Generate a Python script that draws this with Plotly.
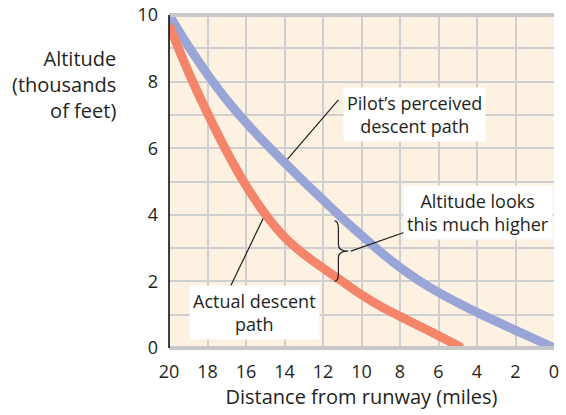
import plotly.graph_objects as go

# ---- data ----
distance = [20, 19, 18, 17, 16, 15, 14, 13, 12, 11, 10, 9, 8, 7, 6, 5, 4, 3, 2, 1, 0]
perceived = [10.0, 9.07, 8.22, 7.45, 6.77, 6.15, 5.57, 5.0, 4.45, 3.9, 3.38, 2.88, 2.42, 2.02, 1.67, 1.36, 1.07, 0.8, 0.53, 0.27, 0.0]
actual_x = [20, 19, 18, 17, 16, 15, 14, 13, 12, 11, 10, 9, 8, 7, 6, 5, 4.8]
actual = [9.7, 8.3, 7.05, 5.9, 4.88, 4.02, 3.33, 2.82, 2.4, 2.0, 1.6, 1.25, 0.95, 0.66, 0.37, 0.07, 0.0]
x_ticks = [20, 18, 16, 14, 12, 10, 8, 6, 4, 2, 0]
y_ticks = [0, 2, 4, 6, 8, 10]

BLUE = "#99a5d7"
RED = "#f4846a"
BG = "#fdf1e1"
GRID = "#cfcfcf"
INK = "#231f20"
FONT = "Open Sans"

fig = go.Figure()
fig.add_trace(go.Scatter(x=distance, y=perceived, mode="lines",
                         line=dict(color=BLUE, width=9, shape="spline", smoothing=0.8),
                         showlegend=False, hoverinfo="skip"))
fig.add_trace(go.Scatter(x=actual_x, y=actual, mode="lines",
                         line=dict(color=RED, width=9, shape="spline", smoothing=0.8),
                         showlegend=False, hoverinfo="skip"))

# top / bottom thick grey borders and left black axis
fig.add_shape(type="line", xref="paper", yref="paper", x0=0, x1=1, y0=1, y1=1, line=dict(color="#c8c8c8", width=4))
fig.add_shape(type="line", xref="paper", yref="paper", x0=0, x1=1, y0=0, y1=0, line=dict(color="#c8c8c8", width=4))
fig.add_shape(type="line", xref="paper", yref="paper", x0=0, x1=0, y0=0, y1=1, line=dict(color="black", width=1.5))

# leader lines (between grid and traces)
i14 = distance.index(14)
fig.add_shape(type="line", xref="x", yref="y", x0=distance[i14], y0=perceived[i14], x1=11.2, y1=7.45,
              line=dict(color=INK, width=1.2), layer="between")
i15 = actual_x.index(15)
fig.add_shape(type="line", xref="x", yref="y", x0=actual_x[i15], y0=actual[i15], x1=16.85, y1=1.8,
              line=dict(color=INK, width=1.2), layer="between")

# brace at 11 miles between the two curves
bx = 11
top = perceived[distance.index(bx)] - 0.08
bot = actual[actual_x.index(bx)]
mid = (top + bot) / 2
x0, xb, xt = bx + 0.4, bx + 0.2, bx - 0.3
path = (f"M {x0},{top} Q {xb},{top} {xb},{top - 0.25} L {xb},{mid + 0.2} "
        f"Q {xb},{mid} {xt},{mid} Q {xb},{mid} {xb},{mid - 0.2} "
        f"L {xb},{bot + 0.25} Q {xb},{bot} {x0},{bot}")
fig.add_shape(type="path", xref="x", yref="y", path=path, line=dict(color=INK, width=1.2))
fig.add_shape(type="line", xref="x", yref="y", x0=xt - 0.15, y0=mid, x1=7.65, y1=3.5,
              line=dict(color=INK, width=1.2))

lab = dict(font=dict(family=FONT, size=18, color=INK), showarrow=False, bgcolor="white",
           borderpad=3, align="center", xref="x", yref="y")
fig.add_annotation(text="Pilot’s perceived<br>descent path", x=7.25, y=7.0, **lab)
fig.add_annotation(text="Altitude looks<br>this much higher", x=3.95, y=4.06, **lab)
fig.add_annotation(text="Actual descent<br>path", x=15.55, y=1.07, **lab)

fig.add_annotation(text="Altitude<br>(thousands<br>of feet)", xref="paper", yref="paper", x=-0.133, y=0.79,
                   xanchor="right", yanchor="middle", align="right", showarrow=False,
                   font=dict(family=FONT, size=20, color=INK))

fig.update_xaxes(range=[20, 0], tickvals=x_ticks, showgrid=True, gridcolor=GRID, gridwidth=1.5,
                 zeroline=False, showline=False, ticks="", ticklabelstandoff=11, automargin=False,
                 tickfont=dict(family=FONT, size=18, color=INK),
                 title=dict(text="Distance from runway (miles)", font=dict(family=FONT, size=20, color=INK),
                            standoff=6))
fig.update_yaxes(range=[0, 10], tickvals=y_ticks, showgrid=True, gridcolor=GRID, gridwidth=1.5,
                 minor=dict(dtick=1, showgrid=True, gridcolor=GRID, gridwidth=1.5),
                 zeroline=False, showline=False, ticks="", ticklabelstandoff=10, automargin=False,
                 tickfont=dict(family=FONT, size=18, color=INK))

fig.update_layout(width=566, height=415, margin=dict(l=169, r=12, t=15, b=67),
                  plot_bgcolor=BG, paper_bgcolor="white", font=dict(family=FONT, color=INK))

fig.write_html("out.html", config={"displayModeBar": False},
               post_script="document.body.style.margin='0';")
